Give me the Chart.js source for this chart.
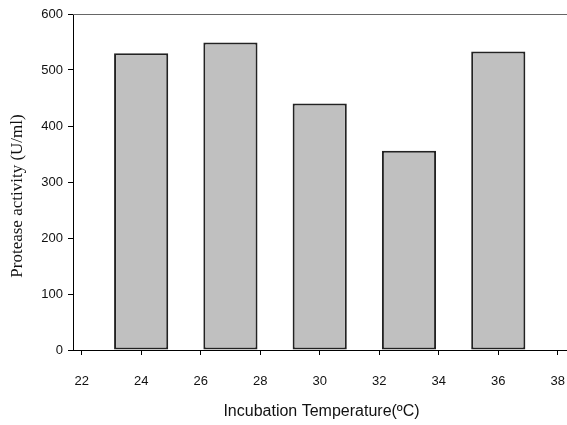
<!DOCTYPE html>
<html>
<head>
<meta charset="utf-8">
<script src="https://cdn.jsdelivr.net/npm/chart.js@4.4.0/dist/chart.umd.min.js"></script>
<style>
  body { margin: 0; background: #fff; }
  #wrap { width: 567px; height: 425px; overflow: hidden; }
</style>
</head>
<body>
<div id="wrap"><canvas id="myChart" width="572" height="425"></canvas></div>
<script>
// data
const temps = [24, 27, 30, 33, 36];
const activity = [530, 549, 440, 356, 533];
const xTicks = [22, 24, 26, 28, 30, 32, 34, 36, 38];
const yTicks = [0, 100, 200, 300, 400, 500, 600];

const yTitle = 'Protease activity (U/ml)';
const xTitle = 'Incubation Temperature(ºC)';

// top frame line + y title, placed where the original has them
const extras = {
    id: 'extras',
    afterDraw(chart) {
        const ctx = chart.ctx;
        const area = chart.chartArea;
        ctx.save();
        ctx.strokeStyle = '#666';
        ctx.lineWidth = 1;
        ctx.beginPath();
        ctx.moveTo(area.left, area.top + 0.5);
        ctx.lineTo(chart.width, area.top + 0.5);
        ctx.stroke();

        ctx.translate(18, 196);
        ctx.rotate(-Math.PI / 2);
        ctx.fillStyle = '#111';
        ctx.font = '17px "Liberation Serif", "Times New Roman", serif';
        ctx.textAlign = 'center';
        ctx.textBaseline = 'middle';
        ctx.fillText(yTitle, 0, 0);
        ctx.restore();
    }
};

const points = temps.map(function (t, i) { return { x: t, y: activity[i] }; });

const ctx = document.getElementById('myChart').getContext('2d');
const chartInstance = new Chart(ctx, {
    type: 'bar',
    data: {
        datasets: [{
            data: points,
            backgroundColor: '#c0c0c0',
            borderColor: '#222',
            borderWidth: 2,
            borderSkipped: false,
            categoryPercentage: 0.91,
            barPercentage: 1.0
        }]
    },
    options: {
        responsive: false,
        animation: false,
        layout: { padding: { top: 14, right: 2, left: 0, bottom: 0 } },
        plugins: {
            legend: { display: false },
            tooltip: { enabled: false }
        },
        scales: {
            x: {
                type: 'linear',
                offset: false,
                min: 21.71,
                max: 38.41,
                afterBuildTicks: function (scale) {
                    scale.ticks = xTicks.map(function (v) { return { value: v }; });
                },
                afterFit: function (scale) {
                    scale.height = 75;
                    scale.paddingLeft = 0;
                    scale.paddingRight = 0;
                },
                grid: { offset: false, drawOnChartArea: false, drawTicks: true, tickLength: 5, color: '#000' },
                border: { display: true, color: '#000', width: 1 },
                ticks: {
                    padding: 19,
                    color: '#111',
                    font: { family: '"Liberation Sans", Arial, sans-serif', size: 13 }
                },
                title: {
                    display: true,
                    text: xTitle,
                    color: '#111',
                    padding: { top: 0, bottom: 4 },
                    font: { family: '"Liberation Sans", Arial, sans-serif', size: 16 }
                }
            },
            y: {
                min: 0,
                max: 600,
                afterBuildTicks: function (scale) {
                    scale.ticks = yTicks.map(function (v) { return { value: v }; });
                },
                afterFit: function (scale) { scale.width = 73; },
                grid: { drawOnChartArea: false, drawTicks: true, tickLength: 5, color: '#000' },
                border: { display: true, color: '#000', width: 1 },
                ticks: {
                    padding: 5,
                    color: '#111',
                    font: { family: '"Liberation Sans", Arial, sans-serif', size: 13 }
                }
            }
        }
    },
    plugins: [extras]
});
</script>
</body>
</html>
